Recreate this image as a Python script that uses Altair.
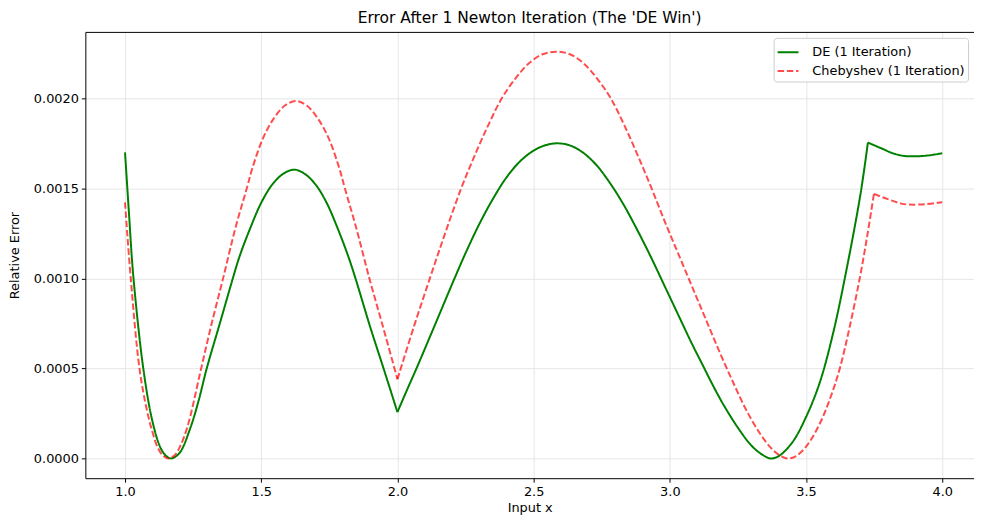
import altair as alt
import pandas as pd

# ---- data ----
de_x = [1.00, 1.015, 1.03, 1.067, 1.10, 1.13, 1.15, 1.17, 1.20, 1.24, 1.27, 1.30, 1.35, 1.39,
        1.42, 1.46, 1.50, 1.54, 1.58, 1.621, 1.66, 1.70, 1.74, 1.78, 1.82, 1.846, 1.90, 1.949,
        2.00,
        2.035, 2.07, 2.14, 2.204, 2.25, 2.30, 2.35, 2.40, 2.45, 2.50, 2.54, 2.583,
        2.63, 2.68, 2.73, 2.78, 2.83, 2.88, 2.93, 2.98, 3.03, 3.08, 3.12, 3.16, 3.20, 3.25,
        3.30, 3.34, 3.369, 3.40, 3.45, 3.50, 3.55, 3.60, 3.65, 3.70, 3.727,
        3.78, 3.818, 3.86, 3.903, 3.95, 4.00]
de_y = [0.0017, 0.00135, 0.00102, 0.0005, 0.00021, 0.00006, 0.000015, 0.0, 0.00003, 0.00017,
        0.00032, 0.0005, 0.00076, 0.00097, 0.00112, 0.00128, 0.00142, 0.00152, 0.00158,
        0.001604, 0.00158, 0.00152, 0.00142, 0.00128, 0.00112, 0.001, 0.00073, 0.0005,
        0.000257,
        0.00038, 0.0005, 0.00075, 0.00098, 0.00114, 0.0013, 0.00144, 0.00156, 0.00165, 0.00171,
        0.001738, 0.00175,
        0.00174, 0.0017, 0.00163, 0.00153, 0.00141, 0.00127, 0.00112, 0.00096, 0.0008,
        0.00064, 0.00052, 0.0004, 0.00029, 0.00017, 0.00007, 0.00002, 0.0, 0.000013, 0.00009,
        0.00023, 0.00042, 0.0007, 0.00106, 0.00147, 0.001754,
        0.00172, 0.001695, 0.00168, 0.001678, 0.001683, 0.001695]

ch_x = [1.00, 1.021, 1.053, 1.08, 1.10, 1.12, 1.14, 1.16, 1.18, 1.20, 1.23, 1.275, 1.315, 1.36,
        1.407, 1.447, 1.467, 1.507, 1.547, 1.587, 1.627, 1.667, 1.707, 1.747, 1.787, 1.807,
        1.847, 1.897, 1.949, 2.00,
        2.06, 2.119, 2.175, 2.234, 2.283, 2.333, 2.383, 2.433, 2.483, 2.533, 2.583, 2.633,
        2.683, 2.733, 2.783, 2.833, 2.883, 2.933, 2.983, 3.03, 3.08, 3.13, 3.18, 3.23, 3.28,
        3.33, 3.37, 3.40, 3.43, 3.46, 3.50, 3.551, 3.59, 3.624, 3.66, 3.697, 3.725, 3.749,
        3.80, 3.85, 3.879, 3.94, 4.00]
ch_y = [0.001422, 0.001, 0.0005, 0.00027, 0.00015, 0.00006, 0.000015, 0.0, 0.000015, 0.00006,
        0.00018, 0.00047, 0.00073, 0.001, 0.00129, 0.0015, 0.00161, 0.00178, 0.00189, 0.00196,
        0.001985, 0.00196, 0.00189, 0.00178, 0.00161, 0.0015, 0.00129, 0.001, 0.00072, 0.00044,
        0.00073, 0.001, 0.00125, 0.0015, 0.00168, 0.00185, 0.002, 0.00211, 0.002195, 0.002245,
        0.002259, 0.002245, 0.002195, 0.00211, 0.002, 0.00185, 0.00168, 0.0015, 0.00131,
        0.00114, 0.00096, 0.00078, 0.0006, 0.00043, 0.00027, 0.00014, 0.00006, 0.00002, 0.0,
        0.00001, 0.000065, 0.000195, 0.00034, 0.0005, 0.00073, 0.001, 0.00124, 0.001469,
        0.00144, 0.001415, 0.00141, 0.001412, 0.001423]

# kink positions (piecewise segments)
de_breaks = [2.0, 3.727]
ch_breaks = [2.0, 3.749]

series_names = ["DE (1 Iteration)", "Chebyshev (1 Iteration)"]
x_ticks = [1.0, 1.5, 2.0, 2.5, 3.0, 3.5, 4.0]
y_ticks = [0.0, 0.0005, 0.001, 0.0015, 0.002]


def build_rows(xs, ys, breaks, name):
    rows = []
    edges = [min(xs)] + breaks + [max(xs)]
    for i in range(len(edges) - 1):
        lo, hi = edges[i], edges[i + 1]
        for x, y in zip(xs, ys):
            if lo <= x <= hi:
                rows.append({"x": x, "err": y, "series": name, "seg": f"{name}-{i}"})
    return rows


df = pd.DataFrame(build_rows(de_x, de_y, de_breaks, series_names[0])
                  + build_rows(ch_x, ch_y, ch_breaks, series_names[1]))

x_scale = alt.Scale(domain=[0.8544, 4.1165], nice=False, zero=False)
y_scale = alt.Scale(domain=[-0.00011, 0.002369], nice=False, zero=False)
color_scale = alt.Scale(domain=series_names, range=["#008000", "#ff0000"])
dash_scale = alt.Scale(domain=series_names, range=[[1, 0], [6.5, 2.8]])
opacity_scale = alt.Scale(domain=series_names, range=[1.0, 0.7])

lines = alt.Chart(df).mark_line(strokeWidth=2, interpolate="catmull-rom").encode(
    x=alt.X("x:Q", scale=x_scale,
            axis=alt.Axis(values=x_ticks, format=".1f", title="Input x")),
    y=alt.Y("err:Q", scale=y_scale,
            axis=alt.Axis(values=y_ticks, format=".4f", title="Relative Error")),
    color=alt.Color("series:N", scale=color_scale, title=None),
    strokeDash=alt.StrokeDash("series:N", scale=dash_scale, title=None),
    opacity=alt.Opacity("series:N", scale=opacity_scale, title=None),
    detail="seg:N",
)

top_spine = alt.Chart(df).mark_point(opacity=0).encode(
    x=alt.X("x:Q", scale=x_scale,
            axis=alt.Axis(orient="top", labels=False, ticks=False, title=None,
                          grid=False, domain=True, domainColor="black")),
)

chart = alt.layer(lines, top_spine).resolve_axis(x="independent").properties(
    width=896,
    height=450,
    padding={"left": 78, "top": 22, "right": 0, "bottom": 35},
    autosize=alt.AutoSizeParams(type="none"),
    title=alt.TitleParams("Error After 1 Newton Iteration (The 'DE Win')",
                          fontSize=15.6, font="DejaVu Sans", fontWeight="normal",
                          color="black", offset=5, anchor="middle"),
).configure_view(stroke=None).configure_axis(
    domainColor="black", tickColor="black", tickSize=4,
    labelFont="DejaVu Sans", labelFontSize=13, labelColor="black", labelPadding=3,
    titleFont="DejaVu Sans", titleFontSize=13, titleFontWeight="normal", titleColor="black",
    gridColor="#e6e6e6",
).configure_axisX(titlePadding=4).configure_axisY(titlePadding=12).configure_legend(
    orient="top-right", offset=6, fillColor="white", strokeColor="#cccccc",
    cornerRadius=3, padding=3, symbolType="stroke", symbolSize=441,
    symbolStrokeWidth=2, labelFontSize=13, labelFont="DejaVu Sans", labelColor="black",
    rowPadding=0, labelOffset=13,
)

chart.save("out.html", embed_options={"renderer": "svg", "actions": False})
